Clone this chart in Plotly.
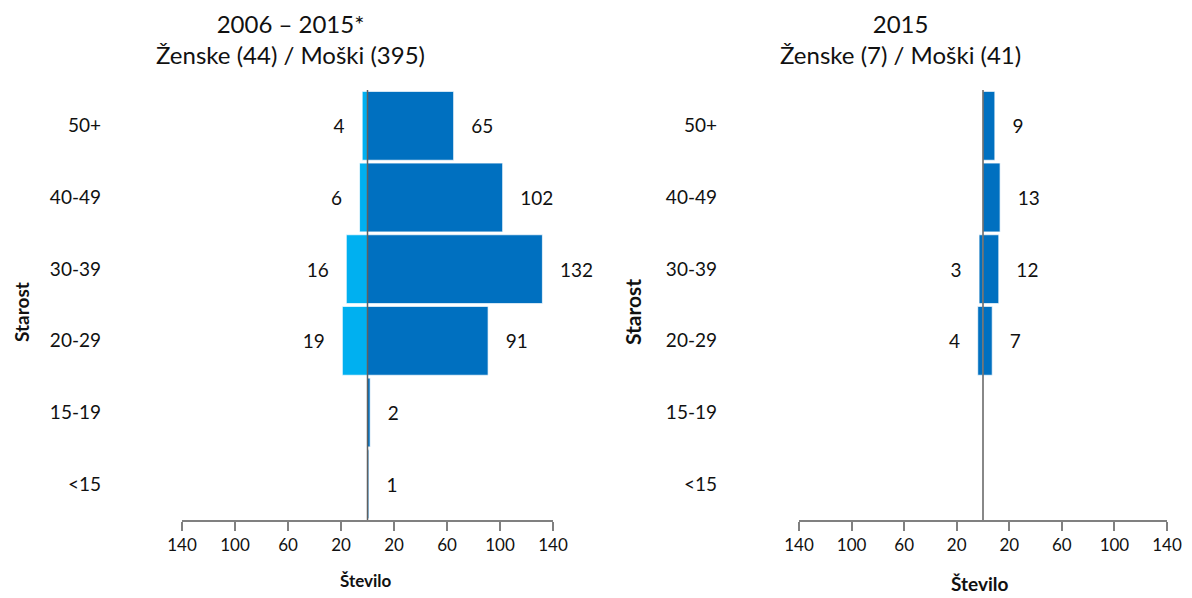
import plotly.graph_objects as go

# age groups, bottom to top
ages = ["<15", "15-19", "20-29", "30-39", "40-49", "50+"]

# 2006 - 2015
women_all = [0, 0, 19, 16, 6, 4]
men_all = [1, 2, 91, 132, 102, 65]

# 2015
women_2015 = [0, 0, 4, 3, 0, 0]
men_2015 = [0, 0, 7, 12, 13, 9]

tick_vals = [-140, -100, -60, -20, 20, 60, 100, 140]
tick_text = ["140", "100", "60", "20", "20", "60", "100", "140"]

titles = ["2006 – 2015*<br>Ženske (44) / Moški (395)",
          "2015<br>Ženske (7) / Moški (41)"]

FONT = "Lato, Calibri, sans-serif"
LIGHT = "#00b0f0"
DARK = "#0070c0"

# the page body adds an 8px margin, so the figure is shrunk by that much
# and positions are given in window pixels
PAD = 8
W, H = 1192 - PAD, 598 - PAD


def px(x):
    return (x - PAD) / W


def py(y):
    return 1 - (y - PAD) / H


def labels(vals, side):
    out = []
    for v in vals:
        if v == 0:
            out.append("")
        elif side == "l":
            out.append(f"{v}   ")
        else:
            out.append(f"   {v}")
    return out


fig = go.Figure()

panels = [
    (women_all, men_all, LIGHT, "x", "y"),
    (women_2015, men_2015, DARK, "x2", "y2"),
]
for women, men, wcol, xa, ya in panels:
    fig.add_trace(go.Bar(
        y=ages, x=[-v for v in women], orientation="h",
        marker=dict(color=wcol, line=dict(color="rgba(255,255,255,0.7)", width=1)),
        text=labels(women, "l"), textposition="outside", cliponaxis=False,
        textfont=dict(size=19, color="#111", family=FONT),
        xaxis=xa, yaxis=ya, hoverinfo="skip", showlegend=False))
    fig.add_trace(go.Bar(
        y=ages, x=men, orientation="h",
        marker=dict(color=DARK, line=dict(color="rgba(255,255,255,0.7)", width=1)),
        text=labels(men, "r"), textposition="outside", cliponaxis=False,
        textfont=dict(size=19, color="#111", family=FONT),
        xaxis=xa, yaxis=ya, hoverinfo="skip", showlegend=False))

ydom = [py(520), py(90)]

xcommon = dict(range=[-140, 140], tickvals=tick_vals, ticktext=tick_text,
               showgrid=False, zeroline=False, automargin=False,
               showline=True, linecolor="#808080", linewidth=1.5,
               ticks="outside", ticklen=9, tickcolor="#808080", tickwidth=1.5,
               tickfont=dict(size=17, color="#111", family=FONT), fixedrange=True)
ycommon = dict(showgrid=False, zeroline=False, showline=False, ticks="",
               automargin=False,
               tickfont=dict(size=19, color="#111", family=FONT),
               domain=ydom, anchor="free", fixedrange=True)

fig.update_layout(
    width=W, height=H,
    margin=dict(l=0, r=0, t=0, b=0, autoexpand=False),
    paper_bgcolor="white", plot_bgcolor="white",
    barmode="relative", bargap=0.04,
    font=dict(family=FONT, color="#111"),
    xaxis=dict(xcommon, domain=[px(182), px(553)], anchor="y"),
    xaxis2=dict(xcommon, domain=[px(799), px(1167)], anchor="y2"),
    yaxis=dict(ycommon, position=px(101)),
    yaxis2=dict(ycommon, position=px(717)),
)

# vertical zero lines drawn over the bars
for xr, yr in [("x", "y domain"), ("x2", "y2 domain")]:
    fig.add_shape(type="line", xref=xr, yref=yr, x0=0, x1=0, y0=0, y1=1,
                  line=dict(color="#606060", width=1.5), layer="above")

ann = [
    dict(text=titles[0], x=px(290), y=py(39), font=dict(size=24)),
    dict(text=titles[1], x=px(900), y=py(39), font=dict(size=24)),
    dict(text="<b>Število</b>", x=px(366), y=py(580), font=dict(size=17)),
    dict(text="<b>Število</b>", x=px(979), y=py(583), font=dict(size=19)),
    dict(text="<b>Starost</b>", x=px(21), y=py(312), textangle=-90, font=dict(size=19)),
    dict(text="<b>Starost</b>", x=px(632), y=py(312), textangle=-90, font=dict(size=21)),
]
for a in ann:
    fig.add_annotation(xref="paper", yref="paper", showarrow=False,
                       xanchor="center", yanchor="middle", **a)

fig.write_html("out.html")
